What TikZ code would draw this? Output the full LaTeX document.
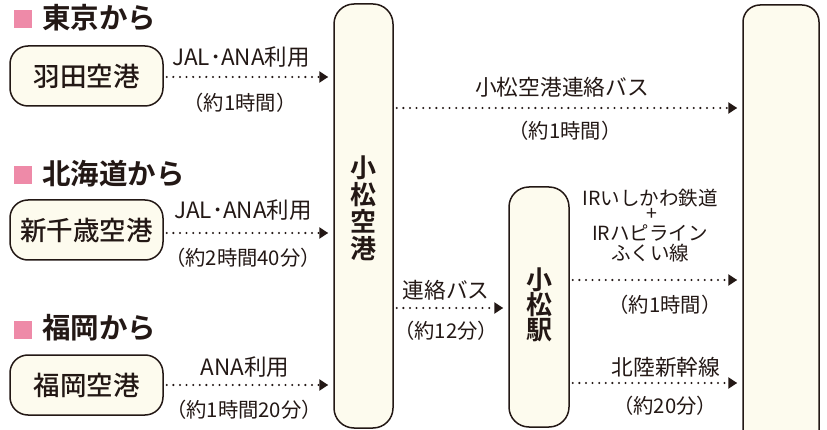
\documentclass[tikz,border=0pt]{standalone}
\usepackage{fontspec}
\setmainfont{Noto Sans CJK JP}
\newfontfamily\jpm{Noto Sans CJK JP Medium}
\newfontfamily\jpb{Noto Sans CJK JP Bold}
\usetikzlibrary{arrows.meta}
\definecolor{cream}{HTML}{FDFBEE}
\definecolor{pinksq}{HTML}{EE8AA8}
\definecolor{ink}{HTML}{231815}
\begin{document}
\begin{tikzpicture}[x=1pt,y=-1pt,
 box/.style={draw=ink, line width=1.5pt, fill=cream, rounded corners=18pt, inner sep=0pt},
 origin/.style={box, minimum width=153pt, minimum height=60pt, font=\jpm\fontsize{26.5}{26.5}\selectfont, text=ink},
 arr/.style={ink, line width=2.3pt, line cap=round, dash pattern=on 0pt off 6.6pt, -{Triangle[length=9pt,width=11pt]}, shorten >=5pt, shorten <=3pt},
 lbl/.style={font=\fontsize{21.7}{21.7}\selectfont, text=ink, inner sep=0pt},
 lbllat/.style={font=\fontsize{22.5}{22.5}\selectfont, text=ink, inner sep=0pt},
 lblpar/.style={font=\fontsize{20.3}{20.3}\selectfont, text=ink, inner sep=0pt},
 lblir/.style={font=\fontsize{19.5}{20}\selectfont, align=center, text=ink, inner sep=0pt},
 hdr/.style={font=\jpb\fontsize{28.5}{28.5}\selectfont, text=ink, anchor=west, inner sep=0pt},
 sq/.style={fill=pinksq, minimum size=18pt, inner sep=0pt},
 vtext/.style={font=\jpb\fontsize{26}{27}\selectfont, align=center, text=ink, inner sep=0pt},
 vtexts/.style={font=\jpb\fontsize{26}{25}\selectfont, align=center, text=ink, inner sep=0pt}
]
\useasboundingbox (0,0) rectangle (827,430);
\fill[white] (0,0) rectangle (827,430);

% headers
\node[sq] (s1) at (23,19) {};
\node[hdr] (h1) at (42,17.5) {東京から};
\node[sq] (s2) at (23,175) {};
\node[hdr] (h2) at (42,174) {北海道から};
\node[sq] (s3) at (23,330) {};
\node[hdr] (h3) at (42,328) {福岡から};

% origin airports
\node[origin] (hnd) at (86.5,76) {羽田空港};
\node[origin] (sct) at (86.5,230) {新千歳空港};
\node[origin] (fuk) at (86.5,385) {福岡空港};

% Komatsu airport
\node[box, minimum width=59pt, minimum height=424pt, rounded corners=20pt] (kap) at (363.5,216) {};
\node[vtext] (kapt) at (363.5,208.5) {小\\松\\空\\港};

% Komatsu station
\node[box, minimum width=60pt, minimum height=240pt, rounded corners=20pt] (stn) at (539,307) {};
\node[vtexts] (stnt) at (539,305) {小\\松\\駅};

% destination box (cut off at bottom)
\node[box, minimum width=76pt, minimum height=460pt, rounded corners=17pt] (rb) at (781,235) {};

% arrows
\draw[arr] ([yshift=-1pt]hnd.east) -- ([yshift=-1pt]hnd.east -| kap.west);
\draw[arr] ([yshift=-3pt]sct.east) -- ([yshift=-3pt]sct.east -| kap.west);
\draw[arr] (fuk.east) -- (fuk.east -| kap.west);
\draw[arr] ([yshift=108pt]kap.east) -- ([yshift=108pt]kap.east -| rb.west);
\draw[arr] ([yshift=-1pt]stn.west -| kap.east) -- ([yshift=-1pt]stn.west);
\draw[arr] ([yshift=27pt]stn.east) -- ([yshift=27pt]stn.east -| rb.west);
\draw[arr] ([yshift=-76pt]stn.east) -- ([yshift=-76pt]stn.east -| rb.west);

% labels
\node[lbllat] (l1a) at (241,57) {JAL･ANA利用};
\node[lblpar] (l1b) at (240,103) {（約1時間）};
\node[lbllat] (l2a) at (243,210) {JAL･ANA利用};
\node[lblpar] (l2b) at (243,258) {（約2時間40分）};
\node[lbllat] (l3a) at (245,367) {ANA利用};
\node[lblpar] (l3b) at (244,410) {（約1時間20分）};
\node[lbl] (l4a) at (562,87) {小松空港連絡バス};
\node[lblpar] (l4b) at (565,131) {（約1時間）};
\node[lbl] (l5a) at (446,290) {連絡バス};
\node[lblpar] (l5b) at (446,331) {（約12分）};
\node[lblir] (l6a) at (650,225.5) {IRいしかわ鉄道\\[-5pt]\hspace*{3pt}+\\[-0.5pt]IRハピライン\\ふくい線};
\node[lblpar] (l6d) at (665,305) {（約1時間）};
\node[lbl] (l7a) at (666,367) {北陸新幹線};
\node[lblpar] (l7b) at (665,406) {（約20分）};
\end{tikzpicture}
\end{document}
